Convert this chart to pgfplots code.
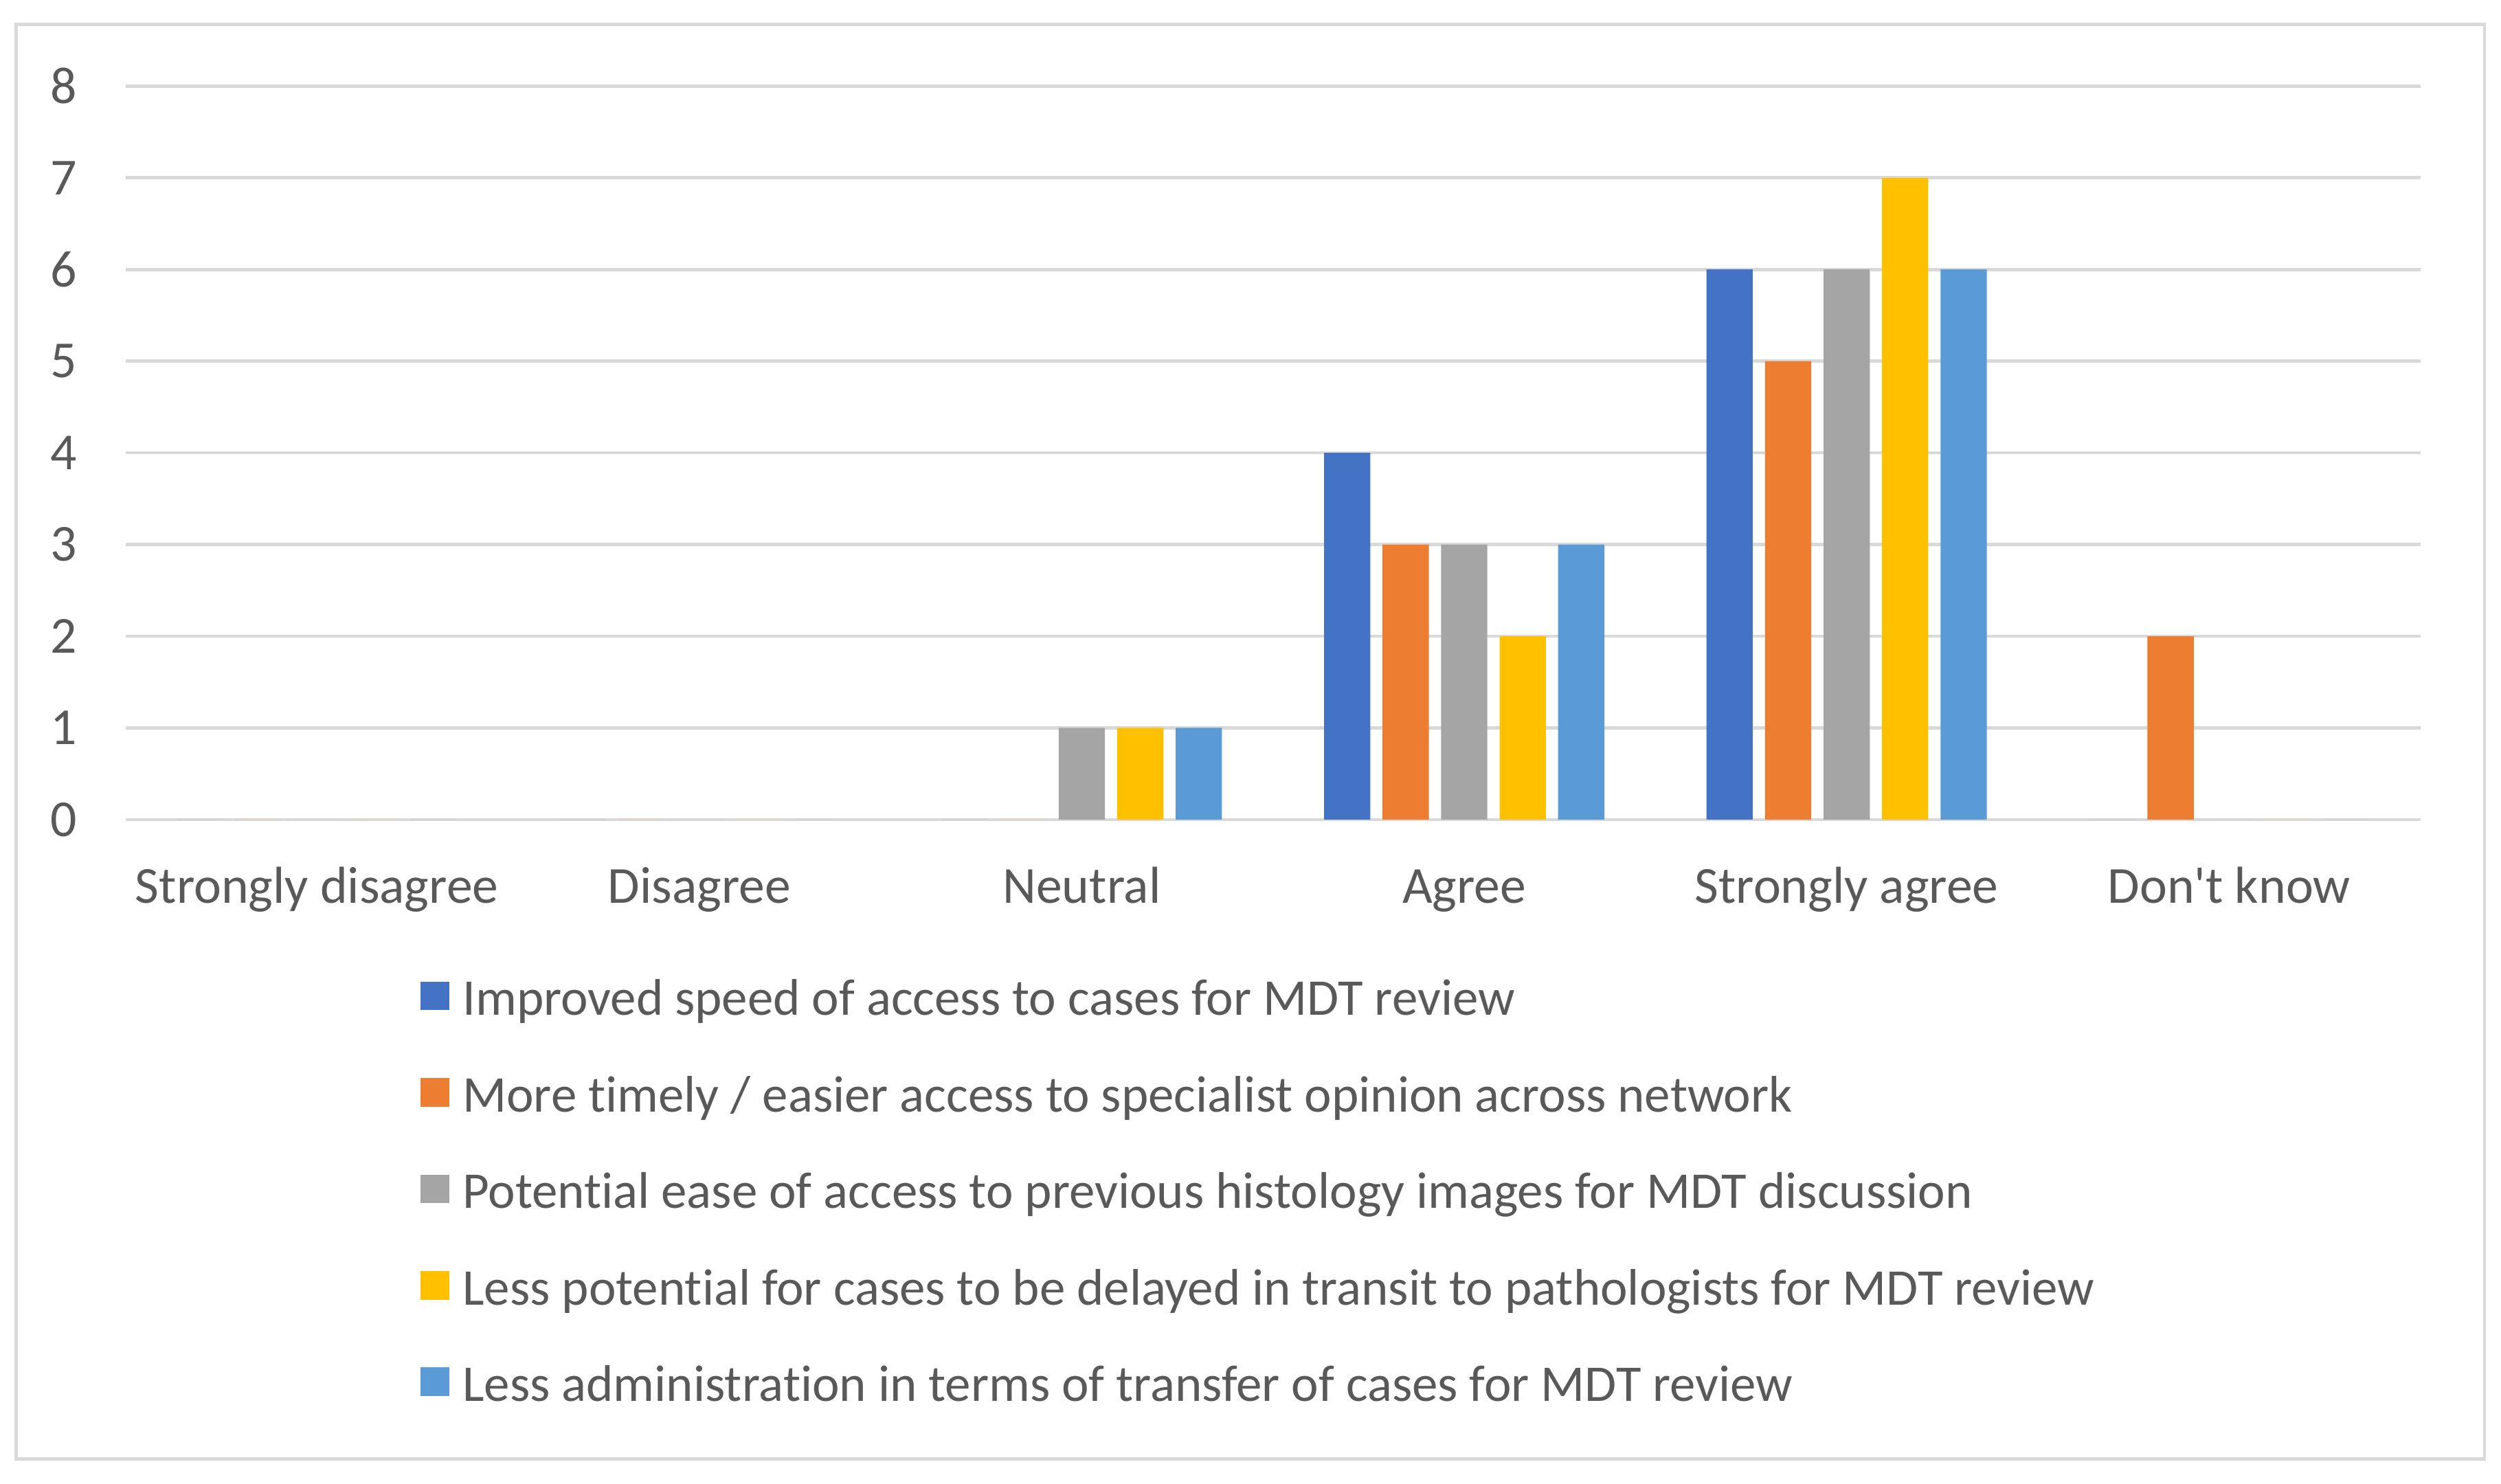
\documentclass[border=0pt]{standalone}
\usepackage{fontspec}
\setmainfont[Ligatures={NoCommon}]{Carlito}
\usepackage{pgfplots}
\pgfplotsset{compat=1.18}
\definecolor{c1}{HTML}{4472C4}
\definecolor{c2}{HTML}{ED7D31}
\definecolor{c3}{HTML}{A5A5A5}
\definecolor{c4}{HTML}{FFC000}
\definecolor{c5}{HTML}{5B9BD5}
\definecolor{txt}{HTML}{595959}
\definecolor{gridc}{HTML}{D9D9D9}
\begin{document}
\fontsize{16.3}{19}\selectfont
\begin{tikzpicture}
\useasboundingbox (0,0) rectangle (784.2pt,465.3pt);
\draw[gridc, line width=1pt] (5pt,7.75pt) rectangle (779pt,457.7pt);
\begin{axis}[
  at={(39.4pt,208.3pt)}, anchor=south west,
  scale only axis, width=719.5pt, height=230pt,
  xmin=-0.5, xmax=5.5, ymin=0, ymax=8,
  ytick={0,...,8},
  xtick={0,...,5},
  xticklabels={Strongly disagree, Disagree, Neutral, Agree, Strongly agree, Don\textquotesingle t know},
  axis line style={draw=none},
  major tick length=0pt,
  ymajorgrids, grid style={gridc, line width=1pt},
  ticklabel style={font=\fontsize{16.3}{19}\selectfont, text=txt},
  /pgf/number format/assume math mode=true,
  xticklabel style={anchor=base, yshift=-26.2pt, inner sep=0pt},
  yticklabel style={anchor=east, xshift=-15pt, inner sep=0pt},
  ybar=3.85pt, bar width=14.5pt,
  legend style={at={(axis description cs:0.1285,-0.2148)}, anchor=north west,
    draw=none, fill=none, inner sep=0pt, outer sep=0pt,
    row sep=14.25pt, column sep=4.2pt,
    font=\fontsize{16.15}{19}\selectfont, text=txt,
    nodes={inner sep=0pt, text height=12pt, text depth=4pt}},
  legend cell align=left,
  legend image code/.code={\fill[#1] (0pt,-2.4pt) rectangle (9pt,6.6pt);},
]
\addplot[fill=c1, draw=none] coordinates {(0,0) (1,0) (2,0) (3,4) (4,6) (5,0)};
\addplot[fill=c2, draw=none] coordinates {(0,0) (1,0) (2,0) (3,3) (4,5) (5,2)};
\addplot[fill=c3, draw=none] coordinates {(0,0) (1,0) (2,1) (3,3) (4,6) (5,0)};
\addplot[fill=c4, draw=none] coordinates {(0,0) (1,0) (2,1) (3,2) (4,7) (5,0)};
\addplot[fill=c5, draw=none] coordinates {(0,0) (1,0) (2,1) (3,3) (4,6) (5,0)};
\legend{Improved speed of access to cases for MDT review,
More timely / easier access to specialist opinion across network,
Potential ease of access to previous histology images for MDT discussion,
Less potential for cases to be delayed in transit to pathologists for MDT review,
Less administration in terms of transfer of cases for MDT review}
\end{axis}
\end{tikzpicture}
\end{document}
